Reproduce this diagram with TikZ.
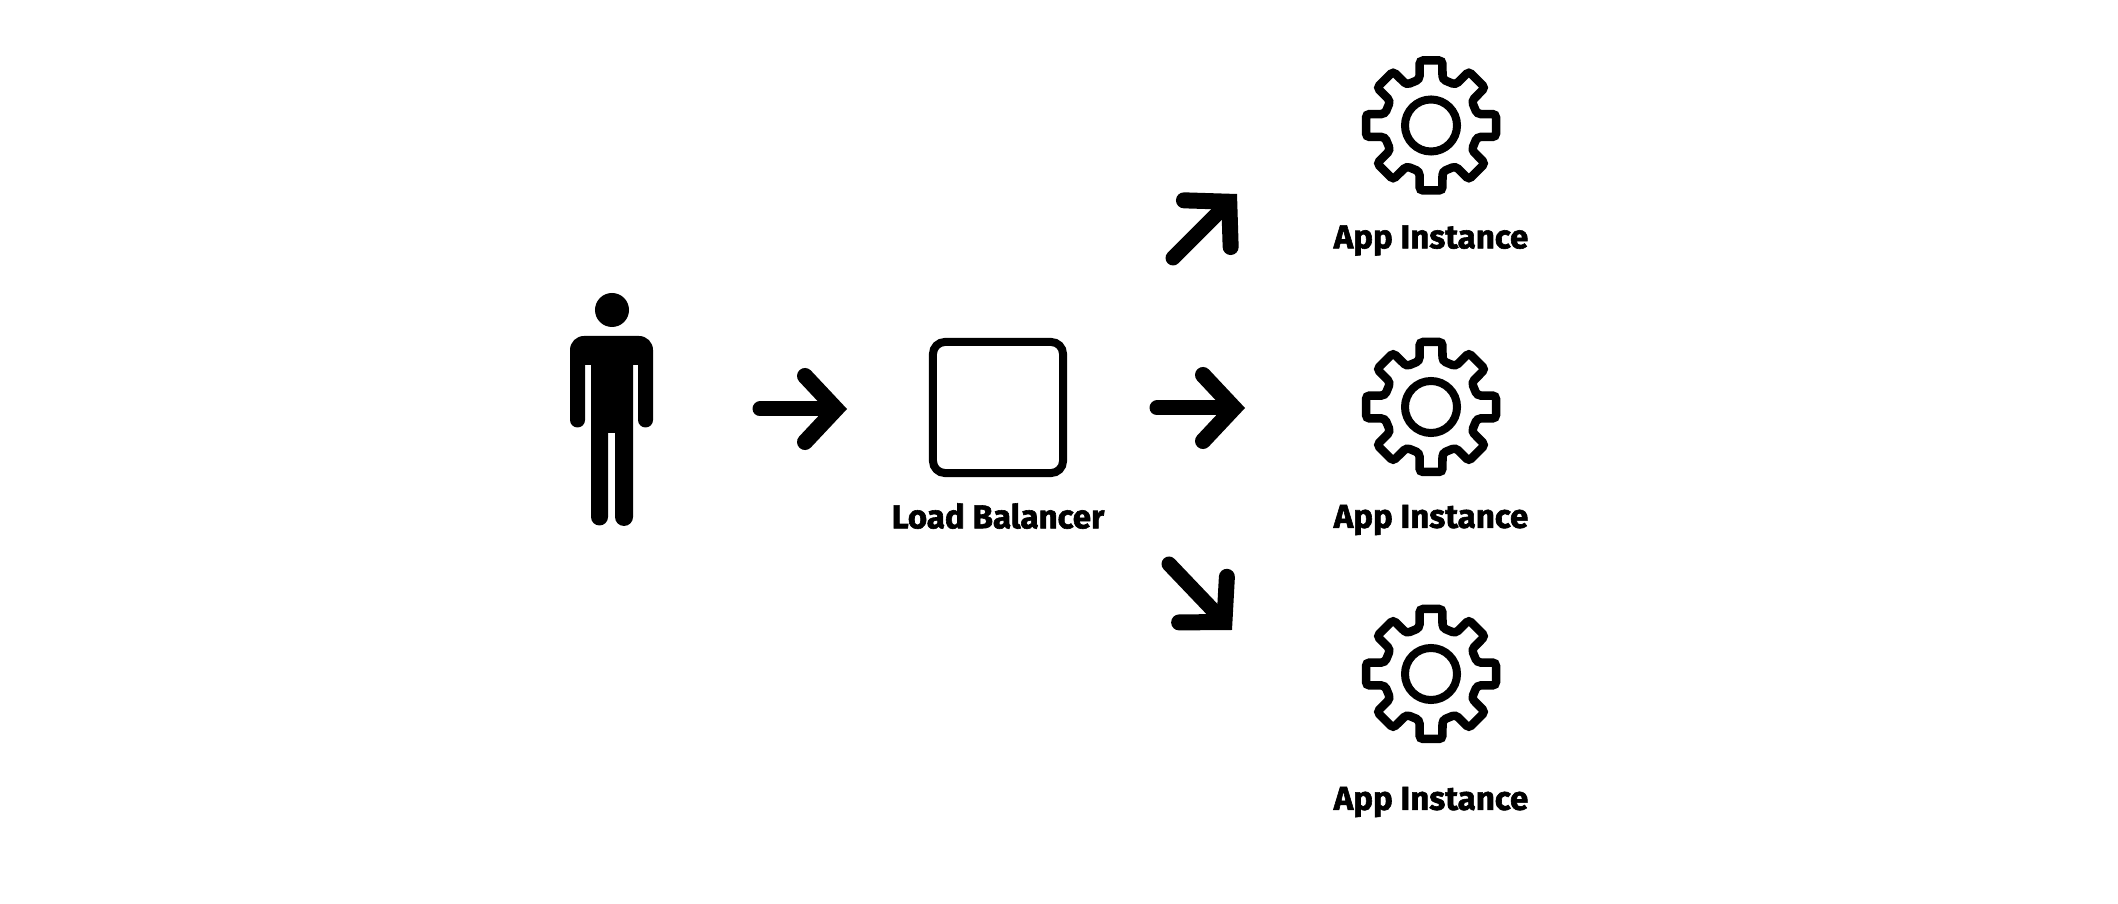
\documentclass[tikz,border=0pt]{standalone}
\usepackage{fontspec}
\setmainfont{Fira Sans}[BoldFeatures={FakeBold=1.8}]
\usetikzlibrary{arrows.meta,positioning}
\tikzset{
  hub/.style = {draw=black, line width=0.08cm, circle, minimum size=0.52cm, inner sep=0pt},
  box/.style = {draw=black, line width=0.08cm, rectangle, rounded corners=0.12cm, minimum width=1.3cm, minimum height=1.31cm},
  head/.style = {fill=black, circle, minimum size=0.34cm, inner sep=0pt},
  tag/.style = {font=\fontsize{9.4}{11}\selectfont\bfseries, inner sep=0pt},
  arrow/.style = {line width=0.15cm, line cap=round, -{Straight Barb[length=0.31cm, width=0.66cm, line width=0.16cm, line cap=round, line join=miter]}},
  pics/gear/.style = {code={
    \draw[line width=0.085cm, rounded corners=0.035cm, line cap=round] (0:65)
      \foreach \a in {0,45,...,315} {
        -- (\a+10:66) -- (\a+14:47.5) -- (\a+31:47.5) -- (\a+35:66) -- (\a+45:65)
      };
  }}
}
\begin{document}
\begin{tikzpicture}[x=0.01cm, y=-0.01cm]
  \useasboundingbox (0,0) rectangle (2118,904);
  % person
  \node[head] (user) at (612,310) {};
  \fill[black] (570,350) arc(180:270:14) -- (639,336) arc(270:360:14) -- (653,420) arc(0:180:7.5)
    -- (638,365) -- (633,365) -- (633,517) arc(0:180:9) -- (615,433) -- (608,433)
    -- (608,517) arc(0:180:8.5) -- (591,365) -- (585,365) -- (585,420) arc(0:180:7.5) -- cycle;
  % load balancer
  \node[box] (lb) at (998,407.5) {};
  \node[tag, below=0.39cm of lb.south, anchor=center] (lbtag) {Load Balancer};
  % instances
  \node[hub] (app1) at (1431,125.5) {};
  \pic at (app1) {gear};
  \node[tag, below=0.85cm of app1, anchor=center] (app1tag) {App Instance};
  \node[hub] (app2) at (1431,407) {};
  \pic at (app2) {gear};
  \node[tag, below=0.83cm of app2, anchor=center] (app2tag) {App Instance};
  \node[hub] (app3) at (1431,674) {};
  \pic at (app3) {gear};
  \node[tag, below=0.98cm of app3, anchor=center] (app3tag) {App Instance};
  % arrows
  \coordinate (in1) at (760,409);
  \coordinate (in2) at (847,409);
  \coordinate (up1) at (1173,258);
  \coordinate (up2) at (1237,194);
  \coordinate (mid1) at (1157,408);
  \coordinate (mid2) at (1245,408);
  \coordinate (low1) at (1169,564);
  \coordinate (low2) at (1232,630);
  \draw[arrow] (in1) -- (in2);
  \draw[arrow] (up1) -- (up2);
  \draw[arrow] (mid1) -- (mid2);
  \draw[arrow] (low1) -- (low2);
\end{tikzpicture}
\end{document}
